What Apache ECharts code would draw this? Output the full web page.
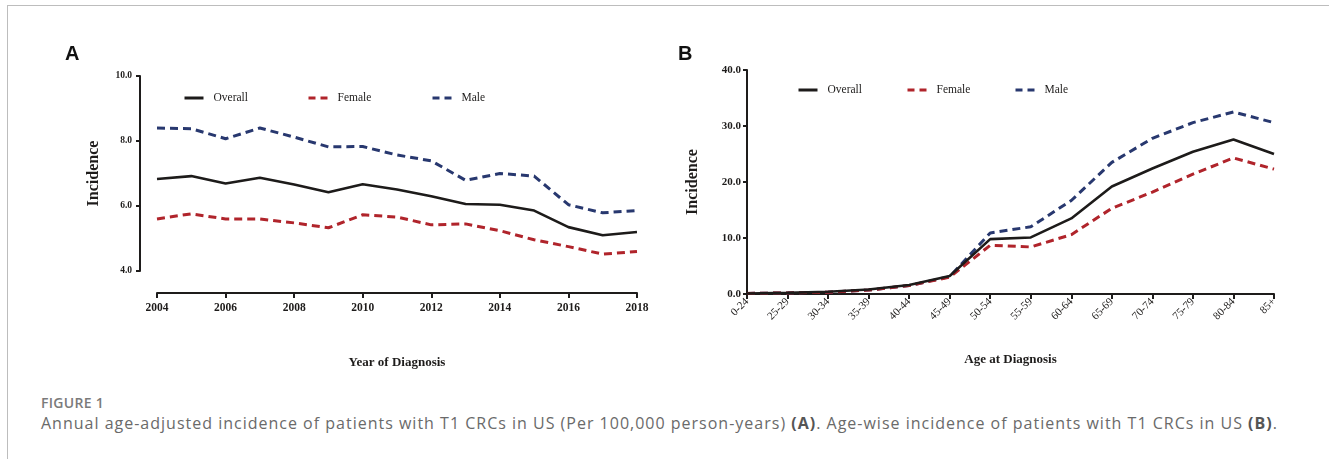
<!DOCTYPE html>
<html>
<head>
<meta charset="utf-8">
<script src="https://cdn.jsdelivr.net/npm/echarts@6/dist/echarts.min.js"></script>
<style>
  html, body { margin:0; padding:0; background:#fff; }
  #wrap { position:relative; width:1329px; height:459px; overflow:hidden; background:#fff; }
  #frame { position:absolute; left:7px; top:5px; right:-10px; bottom:-10px; border-left:1.5px solid #bdbdbd; border-top:1.5px solid #bdbdbd; }
  #chart { position:absolute; left:0; top:0; width:1329px; height:380px; }
  .cap1 { position:absolute; left:41px; top:393px; font-family:"Open Sans", sans-serif; font-size:14px; letter-spacing:0.3px; font-weight:600; color:#7a7a7a; white-space:nowrap; }
  .cap2 { position:absolute; left:41px; top:412px; font-family:"Open Sans", sans-serif; font-size:16px; letter-spacing:1px; color:#6a6a6a; white-space:nowrap; }
  .cap2 b { color:#555; font-weight:700; }
</style>
</head>
<body>
<div id="wrap">
  <div id="frame"></div>
  <div id="chart"></div>
  <div class="cap1">FIGURE 1</div>
  <div class="cap2">Annual age-adjusted incidence of patients with T1 CRCs in US (Per 100,000 person-years) <b>(A)</b>. Age-wise incidence of patients with T1 CRCs in US <b>(B)</b>.</div>
</div>
<script>
// ---- Panel A: annual age-adjusted incidence ----
const years = [2004,2005,2006,2007,2008,2009,2010,2011,2012,2013,2014,2015,2016,2017,2018];
const overallA = [6.83,6.92,6.69,6.87,6.66,6.42,6.67,6.51,6.30,6.06,6.04,5.86,5.35,5.10,5.20];
const femaleA  = [5.60,5.76,5.60,5.60,5.48,5.33,5.73,5.66,5.42,5.45,5.24,4.96,4.75,4.52,4.60];
const maleA    = [8.40,8.38,8.07,8.40,8.12,7.82,7.83,7.57,7.39,6.79,7.00,6.92,6.04,5.79,5.86];

// ---- Panel B: age-wise incidence ----
const ageGroups = ['0-24','25-29','30-34','35-39','40-44','45-49','50-54','55-59','60-64','65-69','70-74','75-79','80-84','85+'];
const overallB = [0.1,0.2,0.4,0.8,1.6,3.2,9.8,10.1,13.5,19.2,22.4,25.4,27.6,25.0];
const femaleB  = [0.1,0.2,0.3,0.7,1.5,3.0,8.7,8.4,10.6,15.3,18.2,21.4,24.3,22.3];
const maleB    = [0.1,0.2,0.3,0.7,1.5,3.1,10.9,12.0,16.7,23.5,27.8,30.6,32.5,30.6];

const seriesNames = ['Overall','Female','Male'];

const SERIF = '"Liberation Serif", "Times New Roman", serif';
const INK = '#1e1c1b';
const colors = { Overall:'#1d1b1a', Female:'#b0242b', Male:'#28386f' };

function lineSeries(name, data, xi) {
  const dashed = name !== 'Overall';
  return {
    name, type:'line', xAxisIndex:xi, yAxisIndex:xi, data,
    symbol:'none', smooth:false, silent:true,
    lineStyle:{ color:colors[name], width: dashed ? 3 : 2.6, type: dashed ? [8,5] : 'solid', cap:'butt' },
    itemStyle:{ color:colors[name] },
    z: dashed ? 2 : 3
  };
}

function legendAt(name, left, top) {
  const dashed = name !== 'Overall';
  return {
    data:[name], left, top, itemWidth:19, itemHeight:10, selectedMode:false,
    itemStyle:{ opacity:0 },
    lineStyle:{ width: dashed ? 3 : 3, type: dashed ? [7,5] : 'solid', color: colors[name] },
    textStyle:{ fontFamily:SERIF, fontSize:11.5, color:INK, padding:[0,0,0,5] }
  };
}

const axisLineStyle = { show:true, lineStyle:{ color:INK, width:2 } };
const axisTickStyle = { show:true, inside:false, length:5, lineStyle:{ color:INK, width:2 } };

const chart = echarts.init(document.getElementById('chart'), null, { renderer:'canvas' });
chart.setOption({
  animation:false,
  backgroundColor:'transparent',
  graphic:[
    { type:'text', left:65, top:44, style:{ text:'A', font:'bold 20px "Liberation Sans", Arial, sans-serif', fill:'#111' } },
    { type:'text', left:678, top:44, style:{ text:'B', font:'bold 20px "Liberation Sans", Arial, sans-serif', fill:'#111' } }
  ],
  legend:[
    legendAt('Overall',178,87), legendAt('Female',302,87), legendAt('Male',426,87),
    legendAt('Overall',792,79), legendAt('Female',901,79), legendAt('Male',1009,79)
  ],
  grid:[
    { left:157, top:76, width:480, height:195, containLabel:false },
    { left:747, top:70, width:527, height:224, containLabel:false }
  ],
  xAxis:[
    { gridIndex:0, type:'value', min:2004, max:2018, interval:2, offset:22,
      axisLine:axisLineStyle, axisTick:axisTickStyle, splitLine:{show:false},
      axisLabel:{ fontFamily:SERIF, fontSize:11.5, color:INK, margin:9, fontWeight:'bold', formatter:v => String(v) },
      name:'Year of Diagnosis', nameLocation:'middle', nameGap:63,
      nameTextStyle:{ fontFamily:SERIF, fontSize:13, color:INK, fontWeight:'bold' } },
    { gridIndex:1, type:'category', data:ageGroups, boundaryGap:false,
      axisLine:axisLineStyle, axisTick:Object.assign({}, axisTickStyle, { alignWithLabel:true, interval:0 }),
      splitLine:{show:false},
      axisLabel:{ fontFamily:SERIF, fontSize:11, color:INK, margin:6, rotate:45, interval:0 },
      name:'Age at Diagnosis', nameLocation:'middle', nameGap:59,
      nameTextStyle:{ fontFamily:SERIF, fontSize:13, color:INK, fontWeight:'bold' } }
  ],
  yAxis:[
    { gridIndex:0, type:'value', min:4, max:10, interval:2, offset:17,
      axisLine:axisLineStyle, axisTick:Object.assign({}, axisTickStyle, {length:4}), splitLine:{show:false},
      axisLabel:{ fontFamily:SERIF, fontSize:9.5, color:INK, margin:8, fontWeight:'bold', formatter:v => v.toFixed(1) },
      name:'Incidence', nameLocation:'middle', nameGap:38,
      nameTextStyle:{ fontFamily:SERIF, fontSize:16, color:INK, fontWeight:'bold' } },
    { gridIndex:1, type:'value', min:0, max:40, interval:10,
      axisLine:axisLineStyle, axisTick:Object.assign({}, axisTickStyle, {length:4}), splitLine:{show:false},
      axisLabel:{ fontFamily:SERIF, fontSize:11, color:INK, margin:6, formatter:v => v.toFixed(1), fontWeight:'bold' },
      name:'Incidence', nameLocation:'middle', nameGap:46,
      nameTextStyle:{ fontFamily:SERIF, fontSize:16, color:INK, fontWeight:'bold' } }
  ],
  series:[
    lineSeries('Male', years.map((y,i)=>[y, maleA[i]]), 0),
    lineSeries('Female', years.map((y,i)=>[y, femaleA[i]]), 0),
    lineSeries('Overall', years.map((y,i)=>[y, overallA[i]]), 0),
    lineSeries('Male', maleB, 1),
    lineSeries('Female', femaleB, 1),
    lineSeries('Overall', overallB, 1)
  ]
});
</script>
</body>
</html>
